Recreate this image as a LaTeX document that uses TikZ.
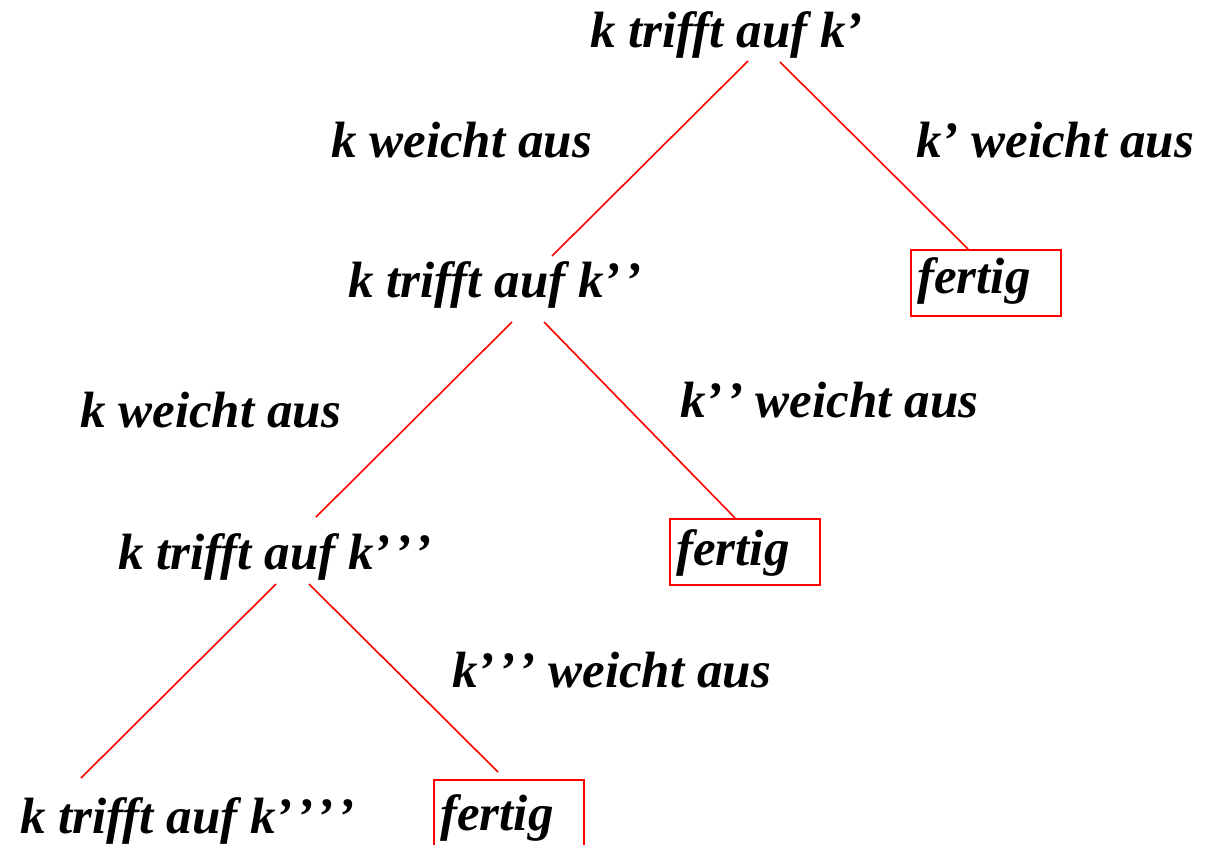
\documentclass[tikz,border=0pt]{standalone}
\usepackage{fontspec}
\setmainfont{Liberation Serif}
% a further prime, set a little apart from the previous one
\newcommand{\moreprime}{\kern3.5pt’}
\begin{document}
\begin{tikzpicture}[x=1pt,y=-1pt,
  lbl/.style={font=\fontsize{51}{60}\selectfont\bfseries\itshape, inner sep=0pt, anchor=base west},
  edge/.style={red, line width=1.6pt},
  endbox/.style={draw=red, line width=1.6pt, minimum width=150pt, minimum height=66pt, inner sep=0pt, anchor=north west}]
\useasboundingbox (0,0) rectangle (1206,844);

% situations
\node[lbl] (t1) at (590,47) {k trifft auf k’};
\node[lbl] (t2) at (348,297) {k trifft auf k’\moreprime};
\node[lbl] (t3) at (118,569) {k trifft auf k’\moreprime\moreprime};
\node[lbl] (t4) at (20,833) {k trifft auf k’\moreprime\moreprime\moreprime};

% branch labels
\node[lbl] (a1) at (331,157) {k weicht aus};
\node[lbl] (b1) at (916,157) {k’ weicht aus};
\node[lbl] (a2) at (80,427) {k weicht aus};
\node[lbl] (b2) at (680,417) {k’\moreprime{} weicht aus};
\node[lbl] (b3) at (452,687) {k’\moreprime\moreprime{} weicht aus};

% end states
\node[endbox] (f1) at (910,249) {};
\node[lbl] (f1t) at ([xshift=7pt,yshift=-44pt]f1.north west) {fertig};
\node[endbox] (f2) at (669,518) {};
\node[lbl] (f2t) at ([xshift=7pt,yshift=-47pt]f2.north west) {fertig};
\node[endbox, minimum height=70pt] (f3) at (433,779) {};
\node[lbl] (f3t) at ([xshift=7pt,yshift=-51pt]f3.north west) {fertig};

% branch end points
\coordinate (t1l) at (748,61);
\coordinate (t1r) at (780,62);
\coordinate (t2top) at (552,256);
\coordinate (t2l) at (512,322);
\coordinate (t2r) at (544,322);
\coordinate (t3top) at (316,517);
\coordinate (t3l) at (276,584);
\coordinate (t3r) at (309,584);
\coordinate (t4top) at (81,778);
\coordinate (f3in) at (498,772);

% branches
\draw[edge] (t1l) -- (t2top);
\draw[edge] (t1r) -- (f1.north -| 968,0);
\draw[edge] (t2l) -- (t3top);
\draw[edge] (t2r) -- (f2.north -| 735,0);
\draw[edge] (t3l) -- (t4top);
\draw[edge] (t3r) -- (f3in);
\end{tikzpicture}
\end{document}
